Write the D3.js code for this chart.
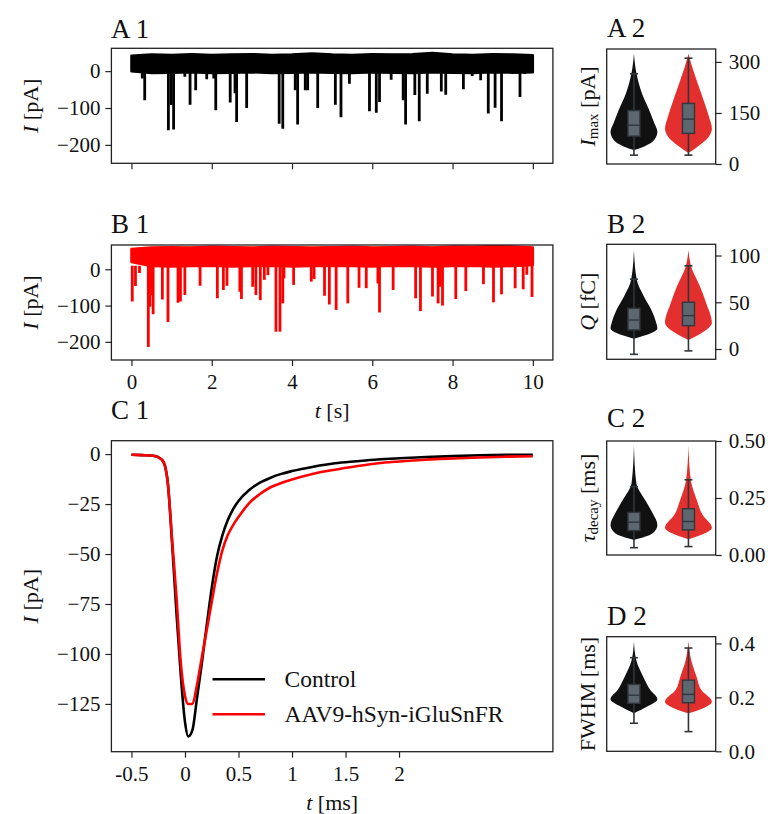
<!DOCTYPE html>
<html>
<head>
<meta charset="utf-8">
<script src="https://cdn.jsdelivr.net/npm/d3@7"></script>
<style>
  body { margin: 0; background: #fff; }
  svg text { font-family: 'Liberation Serif', 'DejaVu Serif', serif; fill: #111; }
</style>
</head>
<body>
<svg id="fig" width="768" height="814"></svg>
<script>
// ---------- data ----------
// A1 / B1: baseline noise band (every 0.5 s) and the events on top of it
const bandT = [0, 0.5, 1, 1.5, 2, 2.5, 3, 3.5, 4, 4.5, 5, 5.5, 6, 6.5, 7, 7.5, 8, 8.5, 9, 9.5, 10];
const ctrlBandTop = [42, 45, 44, 46, 44, 45, 46, 44, 45, 48, 45, 44, 46, 45, 46, 49, 45, 44, 46, 45, 43];
const ctrlBandBot = [0, -5, -4, -3, -5, -4, -3, -5, -4, -3, -4, -5, -3, -4, -5, -3, -4, -5, -3, -4, -3];
const aavBandTop = [56, 60, 61, 60, 62, 61, 60, 62, 61, 60, 61, 62, 60, 61, 62, 60, 63, 62, 64, 63, 60];
const aavBandBot = [20, 9, 8, 9, 10, 8, 9, 10, 8, 9, 10, 9, 8, 10, 9, 8, 9, 10, 8, 9, 12];

const ctrlEventT = [0.27, 0.33, 0.92, 0.99, 1.05, 1.33, 1.46, 1.6, 1.875, 2.05, 2.1, 2.46, 2.58, 2.62, 2.87,
  3.68, 3.77, 4.08, 4.14, 4.33, 4.39, 4.64, 5.08, 5.22, 5.43, 5.93, 6.1, 6.18, 6.47, 6.77, 6.83, 7.06,
  7.17, 7.37, 7.72, 7.83, 8.27, 8.49, 8.7, 8.89, 9.06, 9.22, 9.68, 9.8];
const ctrlEventA = [-20, -79, -160, -92, -158, -15, -91, -52, -22, -20, -106, -85, -60, -138, -100,
  -143, -156, -52, -145, -52, -52, -100, -91, -125, -34, -109, -113, -84, -23, -79, -145, -65,
  -136, -61, -55, -64, -49, -13, -25, -115, -99, -136, -70, -8];

const aavEventT = [0.02, 0.1, 0.2, 0.42, 0.46, 0.49, 0.54, 0.77, 0.91, 1.16, 1.22, 1.33, 1.71, 2.14, 2.29,
  2.38, 2.7, 2.74, 3.02, 3.1, 3.21, 3.31, 3.4, 3.6, 3.7, 3.77, 3.8, 4.04, 4.48, 4.55, 4.81, 4.93, 5.1,
  5.39, 5.67, 5.85, 6.14, 6.18, 6.52, 7.08, 7.2, 7.5, 7.64, 7.69, 7.75, 8.08, 8.33, 8.77, 9.02, 9.22,
  9.56, 9.76, 9.85, 9.98];
const aavEventA = [-89, -46, -10, -214, -103, -71, -124, -83, -145, -92, -89, -71, -45, -80, -57,
  -45, -62, -82, -48, -71, -85, -29, -16, -172, -172, -94, -25, -43, -34, -27, -73, -97, -112,
  -94, -51, -52, -39, -119, -57, -80, -115, -75, -94, -48, -100, -82, -60, -41, -91, -69,
  -52, -55, -15, -76];

// C1: averaged event [ms] / [pA]
const peakT = [-0.5, -0.4, -0.3, -0.25, -0.2, -0.16, -0.12, -0.08, -0.04, 0, 0.03, 0.07, 0.11, 0.15, 0.2,
  0.25, 0.3, 0.35, 0.4, 0.45, 0.5, 0.6, 0.7, 0.8, 0.9, 1.0, 1.2, 1.4, 1.6, 1.8, 2.0, 2.25, 2.5, 2.75, 3.0, 3.25];
const ctrlPeak = [-0.3, -0.5, -0.8, -1.5, -4, -14.7, -45, -79, -110, -134, -141.3, -138, -123, -107.5, -87,
  -67, -51, -40.5, -33, -27.5, -23.5, -18, -14.3, -11.8, -9.9, -8.5, -6.3, -4.6, -3.6, -2.7, -2.1, -1.5, -1, -0.6, -0.4, -0.3];
const aavPeak = [-0.3, -0.5, -0.8, -1.5, -4, -14.7, -43, -71, -104, -121, -125, -125, -116, -104, -89,
  -74, -59.5, -48, -40.5, -35.5, -31.5, -24.5, -20, -16.6, -14.5, -12.7, -9.8, -7.8, -6.1, -4.6, -3.7, -2.8, -2.2, -1.7, -1.3, -1.1];

const seriesNames = ['Control', 'AAV9-hSyn-iGluSnFR'];
const lineColors = ['#000000', '#ff0000'];
const violinColors = ['#111111', '#e3302f'];

// violins: value grid, relative density, box stats [whisker lo, q1, median, q3, whisker hi]
const imaxCtrlY = [41, 51, 71, 95, 120, 159, 206, 265, 324];
const imaxCtrlD = [0, 0.42, 0.87, 1, 0.87, 0.65, 0.35, 0.11, 0];
const imaxAavY = [32, 55, 80, 104, 138, 187, 236, 285, 324];
const imaxAavD = [0, 0.47, 0.87, 1, 0.88, 0.65, 0.4, 0.16, 0];
const imaxCtrlBox = [26, 82, 114, 157, 265];
const imaxAavBox = [26, 90, 132, 178, 311];

const qCtrlY = [11, 17, 22, 29, 42, 56, 74, 106];
const qCtrlD = [0, 0.74, 1, 0.94, 0.74, 0.43, 0.12, 0];
const qAavY = [9.6, 17, 28, 49, 67, 88, 106];
const qAavD = [0, 0.56, 1, 0.76, 0.49, 0.12, 0];
const qCtrlBox = [-5.7, 20.4, 31, 43.6, 74.7];
const qAavBox = [-2, 25, 35.7, 50, 89];

const tauCtrlY = [0.066, 0.095, 0.132, 0.183, 0.242, 0.316, 0.48];
const tauCtrlD = [0, 0.8, 1, 0.8, 0.47, 0.1, 0];
const tauAavY = [0.069, 0.095, 0.12, 0.176, 0.242, 0.33, 0.48];
const tauAavD = [0, 0.7, 1, 0.6, 0.35, 0.1, 0];
const tauCtrlBox = [0.032, 0.107, 0.144, 0.187, 0.30];
const tauAavBox = [0.037, 0.11, 0.147, 0.203, 0.33];

const fwhmCtrlY = [0.141, 0.165, 0.193, 0.227, 0.276, 0.338, 0.408];
const fwhmCtrlD = [0, 0.55, 1, 0.7, 0.4, 0.1, 0];
const fwhmAavY = [0.141, 0.159, 0.184, 0.227, 0.276, 0.338, 0.408];
const fwhmAavD = [0, 0.6, 1, 0.55, 0.35, 0.12, 0];
const fwhmCtrlBox = [0.104, 0.178, 0.208, 0.248, 0.347];
const fwhmAavBox = [0.073, 0.18, 0.211, 0.264, 0.383];

const imaxTicks = [0, 150, 300];
const qTicks = [0, 50, 100];
const tauTicks = [0, 0.25, 0.5];
const fwhmTicks = [0, 0.2, 0.4];
const traceTicks = [0, 2, 4, 6, 8, 10];
const peakTicks = [-0.5, 0, 0.5, 1, 1.5, 2];

// ---------- drawing ----------
const svg = d3.select('#fig');
const INK = '#222';
const TICK_FS = 21;
const LABEL_FS = 22;

function styleAxis(ax) {
  ax.select('.domain').remove();
  ax.selectAll('.tick line').attr('stroke', INK).attr('stroke-width', 1.2);
  ax.selectAll('.tick text').attr('font-size', TICK_FS).attr('fill', '#111')
    .style('font-family', "'Liberation Serif', 'DejaVu Serif', serif");
}

function frame(g, w, h) {
  g.append('rect').attr('width', w).attr('height', h)
    .attr('fill', 'none').attr('stroke', INK).attr('stroke-width', 1.3);
}

function title(x, y, txt) {
  svg.append('text').attr('x', x).attr('y', y).attr('font-size', 27).text(txt);
}

// parts: [text, style] where style is 'i' italic, 's' subscript, '' roman
function richLabel(x, y, parts, rotate) {
  const t = svg.append('text')
    .attr('transform', `translate(${x},${y})` + (rotate ? ' rotate(-90)' : ''))
    .attr('text-anchor', 'middle').attr('dominant-baseline', 'central')
    .attr('font-size', LABEL_FS);
  let shifted = false;
  parts.forEach(([s, st]) => {
    const sp = t.append('tspan').text(s);
    if (st === 'i') sp.attr('font-style', 'italic');
    if (st === 's') { sp.attr('font-size', 15).attr('dy', 6); shifted = true; }
    else if (shifted) { sp.attr('dy', -6); shifted = false; }
  });
}

function tracePanel(box, yDomain, top, bot, evT, evA, color, showX, clipId) {
  const g = svg.append('g').attr('transform', `translate(${box.x},${box.y})`);
  const x = d3.scaleLinear().domain([-0.5, 10.5]).range([0, box.w]);
  const y = d3.scaleLinear().domain(yDomain).range([box.h, 0]);

  g.append('clipPath').attr('id', clipId).append('rect').attr('width', box.w).attr('height', box.h);
  const inner = g.append('g').attr('clip-path', `url(#${clipId})`);

  const base = d3.mean(bot);
  inner.selectAll('line.ev').data(evT).join('line')
    .attr('x1', d => x(d)).attr('x2', d => x(d))
    .attr('y1', y(base)).attr('y2', (d, i) => y(evA[i]))
    .attr('stroke', color).attr('stroke-width', 2.8);

  const band = d3.area()
    .x(d => x(d))
    .y0((d, i) => y(bot[i]))
    .y1((d, i) => y(top[i]));
  inner.append('path').datum(bandT).attr('d', band)
    .attr('fill', color).attr('stroke', color).attr('stroke-width', 2.5)
    .attr('stroke-linejoin', 'round');

  const yAx = g.append('g').call(d3.axisLeft(y).tickValues([-200, -100, 0]).tickSize(6).tickPadding(5));
  styleAxis(yAx);
  const xAx = g.append('g').attr('transform', `translate(0,${box.h})`)
    .call(d3.axisBottom(x).tickValues(traceTicks).tickSize(6).tickPadding(8)
      .tickFormat(showX ? d3.format('d') : () => ''));
  styleAxis(xAx);
  frame(g, box.w, box.h);
}

function violinPanel(box, domain, ticks, fmt, sets) {
  const g = svg.append('g').attr('transform', `translate(${box.x},${box.y})`);
  const x = d3.scaleLinear().domain([-0.5, 1.5]).range([0, box.w]);
  const y = d3.scaleLinear().domain(domain).range([box.h, 0]);
  const half = d3.scaleLinear().domain([0, 1]).range([0, x(0.43) - x(0)]);

  sets.forEach((s, i) => {
    const cx = x(i);
    const pts = s.Y.map((v, k) => ({ v, d: s.D[k] }));
    const area = d3.area().curve(d3.curveMonotoneY)
      .y(p => y(p.v)).x0(p => cx - half(p.d)).x1(p => cx + half(p.d));
    g.append('path').datum(pts).attr('d', area).attr('fill', s.color);

    const [lo, q1, med, q3, hi] = s.box;
    const bw = 6, cw = 4;
    g.append('line').attr('x1', cx).attr('x2', cx).attr('y1', y(lo)).attr('y2', y(hi))
      .attr('stroke', '#30363b').attr('stroke-width', 1.6);
    [lo, hi].forEach(v => g.append('line').attr('x1', cx - cw).attr('x2', cx + cw)
      .attr('y1', y(v)).attr('y2', y(v)).attr('stroke', '#30363b').attr('stroke-width', 1.6));
    g.append('rect').attr('x', cx - bw).attr('width', 2 * bw)
      .attr('y', y(q3)).attr('height', y(q1) - y(q3))
      .attr('fill', '#5d6770').attr('stroke', '#30363b').attr('stroke-width', 1.4);
    g.append('line').attr('x1', cx - bw).attr('x2', cx + bw).attr('y1', y(med)).attr('y2', y(med))
      .attr('stroke', '#30363b').attr('stroke-width', 1.4);
  });

  const ax = g.append('g').attr('transform', `translate(${box.w},0)`)
    .call(d3.axisRight(y).tickValues(ticks).tickSize(6).tickPadding(7).tickFormat(fmt));
  styleAxis(ax);
  frame(g, box.w, box.h);
}

// ----- A1, B1 -----
const boxA1 = { x: 111.4, y: 48.3, w: 441.5, h: 115 };
const boxB1 = { x: 111.4, y: 245, w: 441.5, h: 115 };
tracePanel(boxA1, [-250, 62], ctrlBandTop, ctrlBandBot, ctrlEventT, ctrlEventA, lineColors[0], false, 'clipA1');
tracePanel(boxB1, [-250, 67], aavBandTop, aavBandBot, aavEventT, aavEventA, lineColors[1], true, 'clipB1');
title(111, 37.5, 'A 1');
title(111, 233, 'B 1');
richLabel(30, boxA1.y + boxA1.h / 2, [['I', 'i'], [' [pA]', '']], true);
richLabel(30, boxB1.y + boxB1.h / 2, [['I', 'i'], [' [pA]', '']], true);
richLabel(boxA1.x + boxA1.w / 2, 410, [['t', 'i'], [' [s]', '']], false);

// ----- C1 -----
const boxC1 = { x: 111.4, y: 440.7, w: 441.5, h: 311 };
{
  const g = svg.append('g').attr('transform', `translate(${boxC1.x},${boxC1.y})`);
  const x = d3.scaleLinear().domain([-0.6875, 3.4375]).range([0, boxC1.w]);
  const y = d3.scaleLinear().domain([-148.9, 6.7]).range([boxC1.h, 0]);
  const line = d3.line().curve(d3.curveMonotoneX).x((d, i) => x(peakT[i])).y(d => y(d));
  [ctrlPeak, aavPeak].forEach((s, i) => {
    g.append('path').datum(s).attr('d', line).attr('fill', 'none')
      .attr('stroke', lineColors[i]).attr('stroke-width', 2.6).attr('stroke-linejoin', 'round');
  });
  const yAx = g.append('g').call(d3.axisLeft(y).tickValues([-125, -100, -75, -50, -25, 0])
    .tickSize(6).tickPadding(5).tickFormat(d3.format('d')));
  styleAxis(yAx);
  const xAx = g.append('g').attr('transform', `translate(0,${boxC1.h})`)
    .call(d3.axisBottom(x).tickValues(peakTicks).tickSize(6).tickPadding(8).tickFormat(d => String(d)));
  styleAxis(xAx);
  frame(g, boxC1.w, boxC1.h);

  // legend
  const lg = svg.append('g');
  seriesNames.forEach((name, i) => {
    const ly = 679.3 + i * 35;
    lg.append('line').attr('x1', 212.5).attr('x2', 265).attr('y1', ly).attr('y2', ly)
      .attr('stroke', lineColors[i]).attr('stroke-width', 2.6);
    lg.append('text').attr('x', 284.6).attr('y', ly).attr('dominant-baseline', 'central')
      .attr('font-size', 23.5).text(name);
  });
}
title(111, 419, 'C 1');
richLabel(30, boxC1.y + boxC1.h / 2, [['I', 'i'], [' [pA]', '']], true);
richLabel(boxC1.x + boxC1.w / 2, 801.7, [['t', 'i'], [' [ms]', '']], false);

// ----- right column -----
const boxA2 = { x: 606.7, y: 49, w: 109, h: 115 };
const boxB2 = { x: 606.7, y: 244.3, w: 109, h: 115 };
const boxC2 = { x: 606.7, y: 441, w: 109, h: 114 };
const boxD2 = { x: 606.7, y: 636.7, w: 109, h: 114.6 };

violinPanel(boxA2, [0, 338], imaxTicks, d3.format('d'), [
  { Y: imaxCtrlY, D: imaxCtrlD, box: imaxCtrlBox, color: violinColors[0] },
  { Y: imaxAavY, D: imaxAavD, box: imaxAavBox, color: violinColors[1] }]);
violinPanel(boxB2, [-11, 112], qTicks, d3.format('d'), [
  { Y: qCtrlY, D: qCtrlD, box: qCtrlBox, color: violinColors[0] },
  { Y: qAavY, D: qAavD, box: qAavBox, color: violinColors[1] }]);
violinPanel(boxC2, [0, 0.5], tauTicks, d3.format('.2f'), [
  { Y: tauCtrlY, D: tauCtrlD, box: tauCtrlBox, color: violinColors[0] },
  { Y: tauAavY, D: tauAavD, box: tauAavBox, color: violinColors[1] }]);
violinPanel(boxD2, [0, 0.425], fwhmTicks, d3.format('.1f'), [
  { Y: fwhmCtrlY, D: fwhmCtrlD, box: fwhmCtrlBox, color: violinColors[0] },
  { Y: fwhmAavY, D: fwhmAavD, box: fwhmAavBox, color: violinColors[1] }]);

title(607, 37, 'A 2');
title(607, 233, 'B 2');
title(607, 427, 'C 2');
title(607, 625, 'D 2');
richLabel(587, boxA2.y + boxA2.h / 2, [['I', 'i'], ['max', 's'], [' [pA]', '']], true);
richLabel(587, boxB2.y + boxB2.h / 2, [['Q', 'i'], [' [fC]', '']], true);
richLabel(587, boxC2.y + boxC2.h / 2, [['τ', 'i'], ['decay', 's'], [' [ms]', '']], true);
richLabel(587, boxD2.y + boxD2.h / 2, [['FWHM [ms]', '']], true);
</script>
</body>
</html>
